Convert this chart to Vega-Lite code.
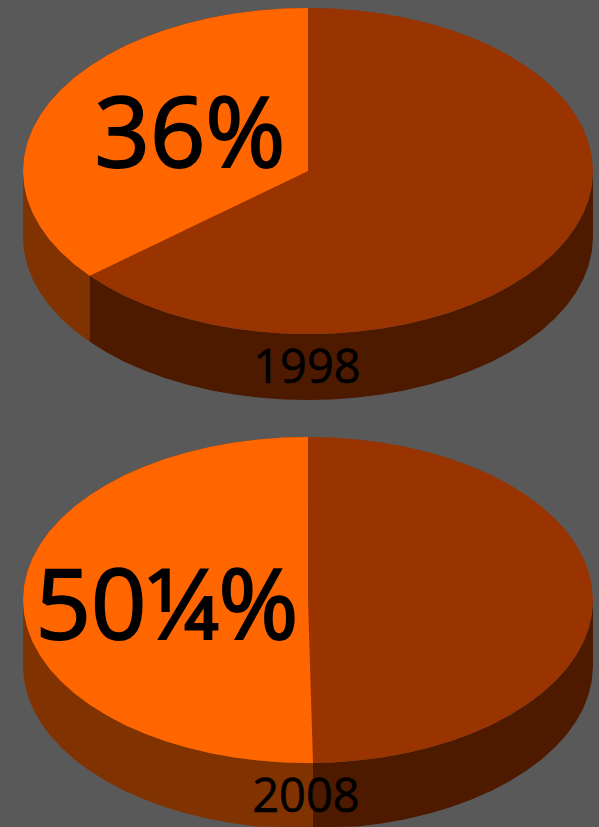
{"$schema":"https://vega.github.io/schema/vega-lite/v6.json","width":599,"height":827,"autosize":{"type":"fit","contains":"padding"},"padding":0,"background":"#595959","config":{"view":{"stroke":null}},
"datasets":{"surfaces":[
{"part":"1998 share side","surface":"share side","x":23,"y":171,"y2":237},{"part":"1998 share side","surface":"share side","x":24.1,"y":185.2,"y2":251.2},{"part":"1998 share side","surface":"share side","x":27.3,"y":199.3,"y2":265.3},{"part":"1998 share side","surface":"share side","x":32.7,"y":213.2,"y2":279.2},{"part":"1998 share side","surface":"share side","x":40.2,"y":226.7,"y2":292.7},{"part":"1998 share side","surface":"share side","x":49.7,"y":239.9,"y2":305.9},{"part":"1998 share side","surface":"share side","x":61.2,"y":252.5,"y2":318.5},{"part":"1998 share side","surface":"share side","x":74.5,"y":264.5,"y2":330.5},{"part":"1998 share side","surface":"share side","x":89.7,"y":275.8,"y2":341.8},
{"part":"1998 rest side","surface":"rest side","x":89.7,"y":275.8,"y2":341.8},{"part":"1998 rest side","surface":"rest side","x":106.5,"y":286.3,"y2":352.3},{"part":"1998 rest side","surface":"rest side","x":124.8,"y":295.9,"y2":361.9},{"part":"1998 rest side","surface":"rest side","x":144.5,"y":304.5,"y2":370.5},{"part":"1998 rest side","surface":"rest side","x":165.5,"y":312.2,"y2":378.2},{"part":"1998 rest side","surface":"rest side","x":187.6,"y":318.7,"y2":384.7},{"part":"1998 rest side","surface":"rest side","x":210.5,"y":324.2,"y2":390.2},{"part":"1998 rest side","surface":"rest side","x":234.2,"y":328.4,"y2":394.4},{"part":"1998 rest side","surface":"rest side","x":258.5,"y":331.5,"y2":397.5},{"part":"1998 rest side","surface":"rest side","x":283.2,"y":333.4,"y2":399.4},{"part":"1998 rest side","surface":"rest side","x":308,"y":334,"y2":400},{"part":"1998 rest side","surface":"rest side","x":332.8,"y":333.4,"y2":399.4},{"part":"1998 rest side","surface":"rest side","x":357.5,"y":331.5,"y2":397.5},{"part":"1998 rest side","surface":"rest side","x":381.8,"y":328.4,"y2":394.4},{"part":"1998 rest side","surface":"rest side","x":405.5,"y":324.2,"y2":390.2},{"part":"1998 rest side","surface":"rest side","x":428.4,"y":318.7,"y2":384.7},{"part":"1998 rest side","surface":"rest side","x":450.5,"y":312.2,"y2":378.2},{"part":"1998 rest side","surface":"rest side","x":471.5,"y":304.5,"y2":370.5},{"part":"1998 rest side","surface":"rest side","x":491.2,"y":295.9,"y2":361.9},{"part":"1998 rest side","surface":"rest side","x":509.5,"y":286.3,"y2":352.3},{"part":"1998 rest side","surface":"rest side","x":526.3,"y":275.8,"y2":341.8},{"part":"1998 rest side","surface":"rest side","x":541.5,"y":264.5,"y2":330.5},{"part":"1998 rest side","surface":"rest side","x":554.8,"y":252.5,"y2":318.5},{"part":"1998 rest side","surface":"rest side","x":566.3,"y":239.9,"y2":305.9},{"part":"1998 rest side","surface":"rest side","x":575.8,"y":226.7,"y2":292.7},{"part":"1998 rest side","surface":"rest side","x":583.3,"y":213.2,"y2":279.2},{"part":"1998 rest side","surface":"rest side","x":588.7,"y":199.3,"y2":265.3},{"part":"1998 rest side","surface":"rest side","x":591.9,"y":185.2,"y2":251.2},{"part":"1998 rest side","surface":"rest side","x":593,"y":171,"y2":237},
{"part":"1998 rest top","surface":"rest top","x":23,"y":171,"y2":171},{"part":"1998 rest top","surface":"rest top","x":24.1,"y":156.8,"y2":185.2},{"part":"1998 rest top","surface":"rest top","x":27.3,"y":142.7,"y2":199.3},{"part":"1998 rest top","surface":"rest top","x":32.7,"y":128.8,"y2":213.2},{"part":"1998 rest top","surface":"rest top","x":40.2,"y":115.3,"y2":226.7},{"part":"1998 rest top","surface":"rest top","x":49.7,"y":102.1,"y2":239.9},{"part":"1998 rest top","surface":"rest top","x":61.2,"y":89.5,"y2":252.5},{"part":"1998 rest top","surface":"rest top","x":74.5,"y":77.5,"y2":264.5},{"part":"1998 rest top","surface":"rest top","x":89.7,"y":66.2,"y2":275.8},{"part":"1998 rest top","surface":"rest top","x":106.5,"y":55.7,"y2":286.3},{"part":"1998 rest top","surface":"rest top","x":124.8,"y":46.1,"y2":295.9},{"part":"1998 rest top","surface":"rest top","x":144.5,"y":37.5,"y2":304.5},{"part":"1998 rest top","surface":"rest top","x":165.5,"y":29.8,"y2":312.2},{"part":"1998 rest top","surface":"rest top","x":187.6,"y":23.3,"y2":318.7},{"part":"1998 rest top","surface":"rest top","x":210.5,"y":17.8,"y2":324.2},{"part":"1998 rest top","surface":"rest top","x":234.2,"y":13.6,"y2":328.4},{"part":"1998 rest top","surface":"rest top","x":258.5,"y":10.5,"y2":331.5},{"part":"1998 rest top","surface":"rest top","x":283.2,"y":8.6,"y2":333.4},{"part":"1998 rest top","surface":"rest top","x":308,"y":8,"y2":334},{"part":"1998 rest top","surface":"rest top","x":332.8,"y":8.6,"y2":333.4},{"part":"1998 rest top","surface":"rest top","x":357.5,"y":10.5,"y2":331.5},{"part":"1998 rest top","surface":"rest top","x":381.8,"y":13.6,"y2":328.4},{"part":"1998 rest top","surface":"rest top","x":405.5,"y":17.8,"y2":324.2},{"part":"1998 rest top","surface":"rest top","x":428.4,"y":23.3,"y2":318.7},{"part":"1998 rest top","surface":"rest top","x":450.5,"y":29.8,"y2":312.2},{"part":"1998 rest top","surface":"rest top","x":471.5,"y":37.5,"y2":304.5},{"part":"1998 rest top","surface":"rest top","x":491.2,"y":46.1,"y2":295.9},{"part":"1998 rest top","surface":"rest top","x":509.5,"y":55.7,"y2":286.3},{"part":"1998 rest top","surface":"rest top","x":526.3,"y":66.2,"y2":275.8},{"part":"1998 rest top","surface":"rest top","x":541.5,"y":77.5,"y2":264.5},{"part":"1998 rest top","surface":"rest top","x":554.8,"y":89.5,"y2":252.5},{"part":"1998 rest top","surface":"rest top","x":566.3,"y":102.1,"y2":239.9},{"part":"1998 rest top","surface":"rest top","x":575.8,"y":115.3,"y2":226.7},{"part":"1998 rest top","surface":"rest top","x":583.3,"y":128.8,"y2":213.2},{"part":"1998 rest top","surface":"rest top","x":588.7,"y":142.7,"y2":199.3},{"part":"1998 rest top","surface":"rest top","x":591.9,"y":156.8,"y2":185.2},{"part":"1998 rest top","surface":"rest top","x":593,"y":171,"y2":171},
{"part":"1998 share top","surface":"share top","x":23,"y":171,"y2":171},{"part":"1998 share top","surface":"share top","x":24.1,"y":156.8,"y2":185.2},{"part":"1998 share top","surface":"share top","x":27.3,"y":142.7,"y2":199.3},{"part":"1998 share top","surface":"share top","x":32.7,"y":128.8,"y2":213.2},{"part":"1998 share top","surface":"share top","x":40.2,"y":115.3,"y2":226.7},{"part":"1998 share top","surface":"share top","x":49.7,"y":102.1,"y2":239.9},{"part":"1998 share top","surface":"share top","x":61.2,"y":89.5,"y2":252.5},{"part":"1998 share top","surface":"share top","x":74.5,"y":77.5,"y2":264.5},{"part":"1998 share top","surface":"share top","x":89.7,"y":66.2,"y2":275.8},{"part":"1998 share top","surface":"share top","x":106.5,"y":55.7,"y2":267.7},{"part":"1998 share top","surface":"share top","x":124.8,"y":46.1,"y2":258.9},{"part":"1998 share top","surface":"share top","x":144.5,"y":37.5,"y2":249.5},{"part":"1998 share top","surface":"share top","x":165.5,"y":29.8,"y2":239.4},{"part":"1998 share top","surface":"share top","x":187.6,"y":23.3,"y2":228.8},{"part":"1998 share top","surface":"share top","x":210.5,"y":17.8,"y2":217.8},{"part":"1998 share top","surface":"share top","x":234.2,"y":13.6,"y2":206.4},{"part":"1998 share top","surface":"share top","x":258.5,"y":10.5,"y2":194.8},{"part":"1998 share top","surface":"share top","x":283.2,"y":8.6,"y2":182.9},{"part":"1998 share top","surface":"share top","x":308,"y":8,"y2":171},
{"part":"2008 share side","surface":"share side","x":23,"y":600,"y2":666},{"part":"2008 share side","surface":"share side","x":24.1,"y":614.2,"y2":680.2},{"part":"2008 share side","surface":"share side","x":27.3,"y":628.3,"y2":694.3},{"part":"2008 share side","surface":"share side","x":32.7,"y":642.2,"y2":708.2},{"part":"2008 share side","surface":"share side","x":40.2,"y":655.7,"y2":721.7},{"part":"2008 share side","surface":"share side","x":49.7,"y":668.9,"y2":734.9},{"part":"2008 share side","surface":"share side","x":61.2,"y":681.5,"y2":747.5},{"part":"2008 share side","surface":"share side","x":74.5,"y":693.5,"y2":759.5},{"part":"2008 share side","surface":"share side","x":89.7,"y":704.8,"y2":770.8},{"part":"2008 share side","surface":"share side","x":106.5,"y":715.3,"y2":781.3},{"part":"2008 share side","surface":"share side","x":124.8,"y":724.9,"y2":790.9},{"part":"2008 share side","surface":"share side","x":144.5,"y":733.5,"y2":799.5},{"part":"2008 share side","surface":"share side","x":165.5,"y":741.2,"y2":807.2},{"part":"2008 share side","surface":"share side","x":187.6,"y":747.7,"y2":813.7},{"part":"2008 share side","surface":"share side","x":210.5,"y":753.2,"y2":819.2},{"part":"2008 share side","surface":"share side","x":234.2,"y":757.4,"y2":823.4},{"part":"2008 share side","surface":"share side","x":258.5,"y":760.5,"y2":826.5},{"part":"2008 share side","surface":"share side","x":283.2,"y":762.4,"y2":827},{"part":"2008 share side","surface":"share side","x":308,"y":763,"y2":827},{"part":"2008 share side","surface":"share side","x":313,"y":763,"y2":827},
{"part":"2008 rest side","surface":"rest side","x":313,"y":763,"y2":827},{"part":"2008 rest side","surface":"rest side","x":332.8,"y":762.4,"y2":827},{"part":"2008 rest side","surface":"rest side","x":357.5,"y":760.5,"y2":826.5},{"part":"2008 rest side","surface":"rest side","x":381.8,"y":757.4,"y2":823.4},{"part":"2008 rest side","surface":"rest side","x":405.5,"y":753.2,"y2":819.2},{"part":"2008 rest side","surface":"rest side","x":428.4,"y":747.7,"y2":813.7},{"part":"2008 rest side","surface":"rest side","x":450.5,"y":741.2,"y2":807.2},{"part":"2008 rest side","surface":"rest side","x":471.5,"y":733.5,"y2":799.5},{"part":"2008 rest side","surface":"rest side","x":491.2,"y":724.9,"y2":790.9},{"part":"2008 rest side","surface":"rest side","x":509.5,"y":715.3,"y2":781.3},{"part":"2008 rest side","surface":"rest side","x":526.3,"y":704.8,"y2":770.8},{"part":"2008 rest side","surface":"rest side","x":541.5,"y":693.5,"y2":759.5},{"part":"2008 rest side","surface":"rest side","x":554.8,"y":681.5,"y2":747.5},{"part":"2008 rest side","surface":"rest side","x":566.3,"y":668.9,"y2":734.9},{"part":"2008 rest side","surface":"rest side","x":575.8,"y":655.7,"y2":721.7},{"part":"2008 rest side","surface":"rest side","x":583.3,"y":642.2,"y2":708.2},{"part":"2008 rest side","surface":"rest side","x":588.7,"y":628.3,"y2":694.3},{"part":"2008 rest side","surface":"rest side","x":591.9,"y":614.2,"y2":680.2},{"part":"2008 rest side","surface":"rest side","x":593,"y":600,"y2":666},
{"part":"2008 rest top","surface":"rest top","x":23,"y":600,"y2":600},{"part":"2008 rest top","surface":"rest top","x":24.1,"y":585.8,"y2":614.2},{"part":"2008 rest top","surface":"rest top","x":27.3,"y":571.7,"y2":628.3},{"part":"2008 rest top","surface":"rest top","x":32.7,"y":557.8,"y2":642.2},{"part":"2008 rest top","surface":"rest top","x":40.2,"y":544.3,"y2":655.7},{"part":"2008 rest top","surface":"rest top","x":49.7,"y":531.1,"y2":668.9},{"part":"2008 rest top","surface":"rest top","x":61.2,"y":518.5,"y2":681.5},{"part":"2008 rest top","surface":"rest top","x":74.5,"y":506.5,"y2":693.5},{"part":"2008 rest top","surface":"rest top","x":89.7,"y":495.2,"y2":704.8},{"part":"2008 rest top","surface":"rest top","x":106.5,"y":484.7,"y2":715.3},{"part":"2008 rest top","surface":"rest top","x":124.8,"y":475.1,"y2":724.9},{"part":"2008 rest top","surface":"rest top","x":144.5,"y":466.5,"y2":733.5},{"part":"2008 rest top","surface":"rest top","x":165.5,"y":458.8,"y2":741.2},{"part":"2008 rest top","surface":"rest top","x":187.6,"y":452.3,"y2":747.7},{"part":"2008 rest top","surface":"rest top","x":210.5,"y":446.8,"y2":753.2},{"part":"2008 rest top","surface":"rest top","x":234.2,"y":442.6,"y2":757.4},{"part":"2008 rest top","surface":"rest top","x":258.5,"y":439.5,"y2":760.5},{"part":"2008 rest top","surface":"rest top","x":283.2,"y":437.6,"y2":762.4},{"part":"2008 rest top","surface":"rest top","x":308,"y":437,"y2":763},{"part":"2008 rest top","surface":"rest top","x":332.8,"y":437.6,"y2":762.4},{"part":"2008 rest top","surface":"rest top","x":357.5,"y":439.5,"y2":760.5},{"part":"2008 rest top","surface":"rest top","x":381.8,"y":442.6,"y2":757.4},{"part":"2008 rest top","surface":"rest top","x":405.5,"y":446.8,"y2":753.2},{"part":"2008 rest top","surface":"rest top","x":428.4,"y":452.3,"y2":747.7},{"part":"2008 rest top","surface":"rest top","x":450.5,"y":458.8,"y2":741.2},{"part":"2008 rest top","surface":"rest top","x":471.5,"y":466.5,"y2":733.5},{"part":"2008 rest top","surface":"rest top","x":491.2,"y":475.1,"y2":724.9},{"part":"2008 rest top","surface":"rest top","x":509.5,"y":484.7,"y2":715.3},{"part":"2008 rest top","surface":"rest top","x":526.3,"y":495.2,"y2":704.8},{"part":"2008 rest top","surface":"rest top","x":541.5,"y":506.5,"y2":693.5},{"part":"2008 rest top","surface":"rest top","x":554.8,"y":518.5,"y2":681.5},{"part":"2008 rest top","surface":"rest top","x":566.3,"y":531.1,"y2":668.9},{"part":"2008 rest top","surface":"rest top","x":575.8,"y":544.3,"y2":655.7},{"part":"2008 rest top","surface":"rest top","x":583.3,"y":557.8,"y2":642.2},{"part":"2008 rest top","surface":"rest top","x":588.7,"y":571.7,"y2":628.3},{"part":"2008 rest top","surface":"rest top","x":591.9,"y":585.8,"y2":614.2},{"part":"2008 rest top","surface":"rest top","x":593,"y":600,"y2":600},
{"part":"2008 share top","surface":"share top","x":23,"y":600,"y2":600},{"part":"2008 share top","surface":"share top","x":24.1,"y":585.8,"y2":614.2},{"part":"2008 share top","surface":"share top","x":27.3,"y":571.7,"y2":628.3},{"part":"2008 share top","surface":"share top","x":32.7,"y":557.8,"y2":642.2},{"part":"2008 share top","surface":"share top","x":40.2,"y":544.3,"y2":655.7},{"part":"2008 share top","surface":"share top","x":49.7,"y":531.1,"y2":668.9},{"part":"2008 share top","surface":"share top","x":61.2,"y":518.5,"y2":681.5},{"part":"2008 share top","surface":"share top","x":74.5,"y":506.5,"y2":693.5},{"part":"2008 share top","surface":"share top","x":89.7,"y":495.2,"y2":704.8},{"part":"2008 share top","surface":"share top","x":106.5,"y":484.7,"y2":715.3},{"part":"2008 share top","surface":"share top","x":124.8,"y":475.1,"y2":724.9},{"part":"2008 share top","surface":"share top","x":144.5,"y":466.5,"y2":733.5},{"part":"2008 share top","surface":"share top","x":165.5,"y":458.8,"y2":741.2},{"part":"2008 share top","surface":"share top","x":187.6,"y":452.3,"y2":747.7},{"part":"2008 share top","surface":"share top","x":210.5,"y":446.8,"y2":753.2},{"part":"2008 share top","surface":"share top","x":234.2,"y":442.6,"y2":757.4},{"part":"2008 share top","surface":"share top","x":258.5,"y":439.5,"y2":760.5},{"part":"2008 share top","surface":"share top","x":283.2,"y":437.6,"y2":762.4},{"part":"2008 share top","surface":"share top","x":308,"y":437,"y2":763},{"part":"2008 share top","surface":"share top","x":308.01,"y":600,"y2":763},{"part":"2008 share top","surface":"share top","x":313,"y":763,"y2":763}
],
"shares":[{"label":"36%","x":190,"y":167},{"label":"50¼%","x":167,"y":639}],
"years":[{"label":"1998","x":307,"y":383},{"label":"2008","x":306,"y":812}]},
"layer":[
{"data":{"name":"surfaces"},"mark":{"type":"area","orient":"vertical"},"encoding":{
"x":{"field":"x","type":"quantitative","scale":{"domain":[0,599],"nice":false,"zero":false},"axis":null},
"y":{"field":"y","type":"quantitative","scale":{"domain":[0,827],"reverse":true,"nice":false,"zero":false},"axis":null},
"y2":{"field":"y2"},
"detail":{"field":"part"},
"color":{"field":"surface","type":"nominal","legend":null,"scale":{"domain":["share side","rest side","rest top","share top"],"range":["#803300","#4D1A00","#993300","#FF6600"]}}}},
{"data":{"name":"shares"},"mark":{"type":"text","font":"Open Sans","fontSize":97,"baseline":"alphabetic","align":"center","color":"#000000","stroke":"#000000","strokeWidth":2},"encoding":{
"x":{"field":"x","type":"quantitative","scale":{"domain":[0,599],"nice":false,"zero":false},"axis":null},
"y":{"field":"y","type":"quantitative","scale":{"domain":[0,827],"reverse":true,"nice":false,"zero":false},"axis":null},
"text":{"field":"label"}}},
{"data":{"name":"years"},"mark":{"type":"text","font":"Open Sans","fontSize":47,"baseline":"alphabetic","align":"center","color":"#000000","stroke":"#000000","strokeWidth":0.6},"encoding":{
"x":{"field":"x","type":"quantitative","scale":{"domain":[0,599],"nice":false,"zero":false},"axis":null},
"y":{"field":"y","type":"quantitative","scale":{"domain":[0,827],"reverse":true,"nice":false,"zero":false},"axis":null},
"text":{"field":"label"}}}
]}
